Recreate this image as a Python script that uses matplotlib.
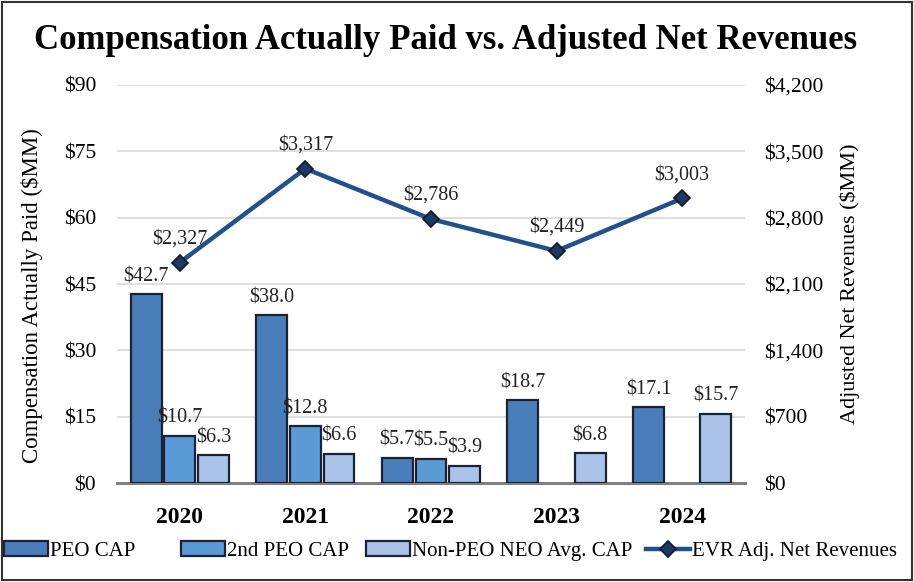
import numpy as np
import matplotlib.pyplot as plt
from matplotlib.patches import Rectangle

plt.rcParams["font.family"] = ["Liberation Serif", "DejaVu Serif"]

years = ["2020", "2021", "2022", "2023", "2024"]
peo_cap = [42.7, 38.0, 5.7, 18.7, 17.1]
second_peo_cap = [10.7, 12.8, 5.5, None, None]
non_peo_cap = [6.3, 6.6, 3.9, 6.8, 15.7]
net_revenues = [2327, 3317, 2786, 2449, 3003]

c_peo = "#4A7EBB"
c_2nd = "#5B9BD5"
c_non = "#A9C4E8"
c_line = "#22508A"
c_edge = "#1B2233"

fig = plt.figure(figsize=(9.14, 5.82), dpi=100)
ax = fig.add_axes([0.128, 0.170, 0.687, 0.684])
ax2 = ax.twinx()

x = np.arange(len(years))
w = 0.245
step = 0.268


def draw_bars(offset, vals, color, label):
    xs = [xi + offset for xi, v in zip(x, vals) if v is not None]
    vs = [v for v in vals if v is not None]
    bars = ax.bar(xs, vs, w, color=color, edgecolor=c_edge, linewidth=1.6, label=label, zorder=3)
    for b, v in zip(bars, vs):
        ax.text(b.get_x() + b.get_width() / 2, v + 1.8, f"${v:.1f}", ha="center", va="bottom",
                fontsize=14.5, color="#222222")
    return bars


draw_bars(-step, peo_cap, c_peo, "PEO CAP")
draw_bars(0, second_peo_cap, c_2nd, "2nd PEO CAP")
draw_bars(step, non_peo_cap, c_non, "Non-PEO NEO Avg. CAP")

ax.set_ylim(0, 90)
ax.set_yticks(np.arange(0, 91, 15))
ax.set_yticklabels([f"${t}" for t in range(0, 91, 15)], fontsize=15.5)
ax.set_xlim(-0.5, 4.5)
ax.set_xticks(x)
ax.set_xticklabels(years, fontsize=17, fontweight="bold")
ax.tick_params(axis="y", length=0, pad=15)
ax.tick_params(axis="x", length=0, pad=17)
ax.yaxis.grid(True, color="#D9D9D9", linewidth=1.2, zorder=0)
ax.set_axisbelow(True)
for s in ["top", "left", "right"]:
    ax.spines[s].set_visible(False)
ax.spines["bottom"].set_color("#808080")
ax.spines["bottom"].set_linewidth(2.2)
ax.set_ylabel("Compensation Actually Paid ($MM)", fontsize=16.5)
ax.yaxis.set_label_coords(-0.118, 0.47)

ax2.plot(x, net_revenues, color=c_line, linewidth=3.2, marker="D", markersize=8,
         markerfacecolor="#1F3864", markeredgecolor="#111827", markeredgewidth=1.2,
         label="EVR Adj. Net Revenues", zorder=5)
for xi, v in zip(x, net_revenues):
    ax2.text(xi, v + 150, f"${v:,}", ha="center", va="bottom", fontsize=14.5, color="#222222")
ax2.set_ylim(0, 4200)
ax2.set_yticks(np.arange(0, 4201, 700))
ax2.set_yticklabels([f"${t:,}" for t in range(0, 4201, 700)], fontsize=15.5)
ax2.tick_params(axis="y", length=0, pad=14)
for s in ["top", "left", "right", "bottom"]:
    ax2.spines[s].set_visible(False)
ax2.set_ylabel("Adjusted Net Revenues ($MM)", fontsize=16, labelpad=11)

fig.suptitle("Compensation Actually Paid vs. Adjusted Net Revenues", fontsize=25,
             fontweight="bold", x=0.487, y=0.931, va="center")

h1, l1 = ax.get_legend_handles_labels()
h2, l2 = ax2.get_legend_handles_labels()
handles = h1 + h2
labels = l1 + l2
legend_x = [4, 181, 366, 646]
for hx, h, l in zip(legend_x, handles, labels):
    leg = fig.legend([h], [l], loc="center left", bbox_to_anchor=(hx / 914, 0.053),
                     frameon=False, fontsize=15, handlelength=2.1, handletextpad=0.1,
                     borderpad=0, borderaxespad=0)

fig.patches.append(Rectangle((0.002, 0.003), 0.996, 0.994, transform=fig.transFigure,
                             fill=False, edgecolor="#333333", linewidth=1.5))

fig.savefig("out.png", dpi=100)
